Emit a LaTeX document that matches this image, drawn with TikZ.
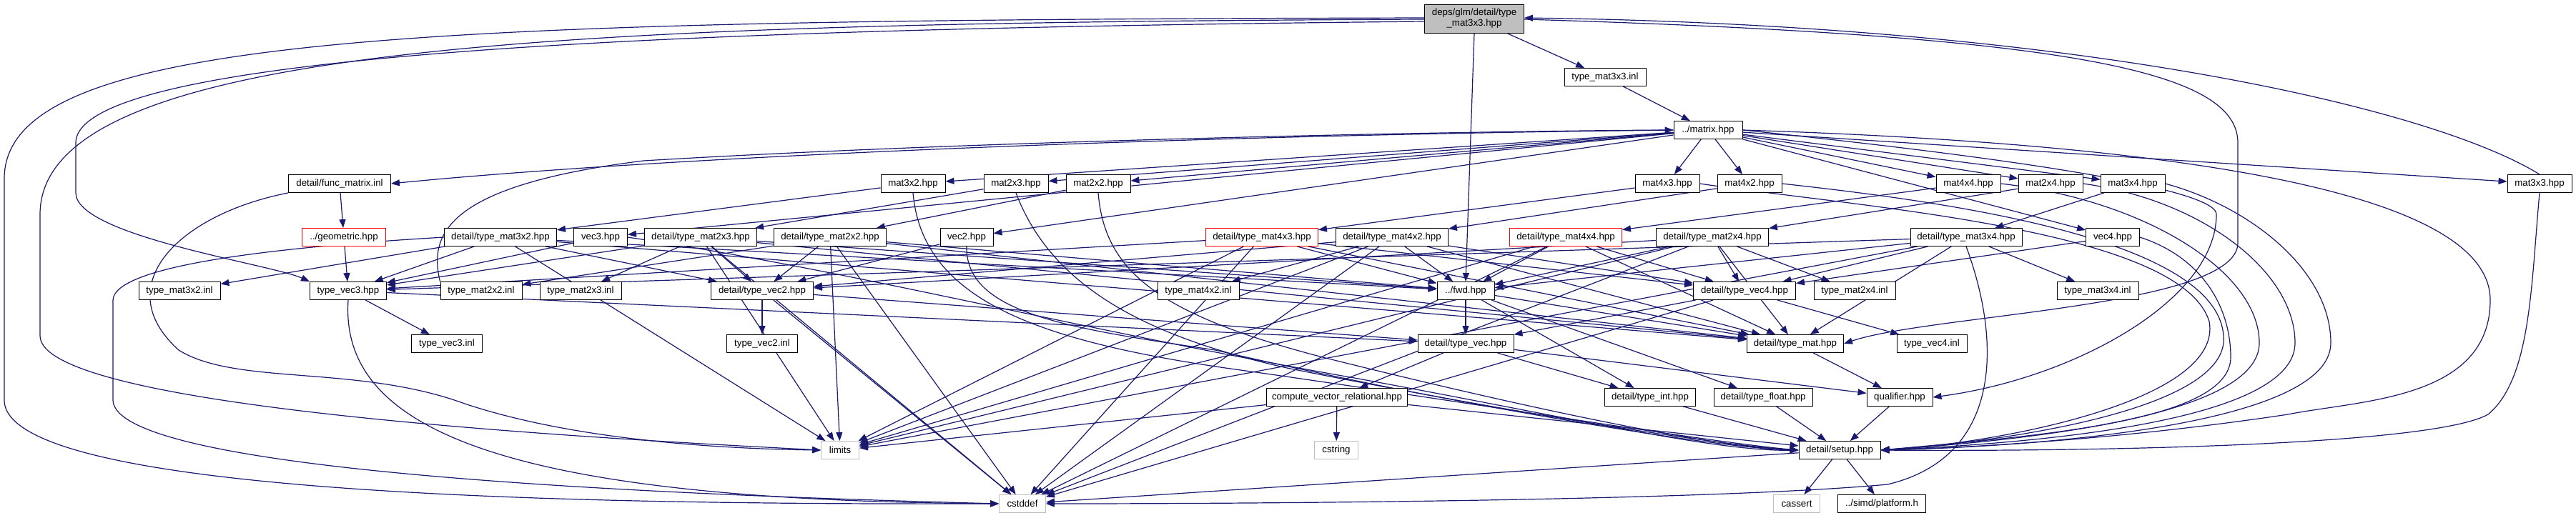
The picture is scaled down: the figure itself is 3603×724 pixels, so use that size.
\documentclass[tikz,border=0pt]{standalone}
\usepackage{fontspec}
\newfontfamily\nf{Liberation Sans}
\usetikzlibrary{arrows.meta,backgrounds}
\definecolor{edgec}{HTML}{191970}
\definecolor{gfill}{HTML}{BFBFBF}
\definecolor{gline}{HTML}{BFBFBF}
\newcommand\nodefont{\nf\fontsize{13.3pt}{15pt}\selectfont}
\begin{document}
\begin{tikzpicture}[x=1pt,y=1pt,
  nb/.style={draw=black, fill=white, line width=0.9pt, minimum height=25pt, inner xsep=2pt, inner ysep=0pt, font=\nodefont},
  gb/.style={nb, draw=gline},
  rb/.style={nb, draw=red},
  e/.style={draw=edgec, line width=1.2pt, -{Triangle[length=12pt,width=9pt]}}]
\useasboundingbox (0,0) rectangle (3603,-724);
% row 0-2
\node[nb, fill=gfill, minimum width=139pt, minimum height=40pt, align=center] (top) at (2062,-26) {deps/glm/detail/type\\\_mat3x3.hpp};
\node[nb, minimum width=114pt] (tm33inl) at (2245,-108) {type\_mat3x3.inl};
\node[nb, minimum width=96pt] (mat) at (2389,-182) {../matrix.hpp};
% row 3
\node[nb, minimum width=143pt] (fmatrix) at (475,-257) {detail/func\_matrix.inl};
\node[nb, minimum width=90pt] (m32) at (1277,-257) {mat3x2.hpp};
\node[nb, minimum width=90pt] (m23) at (1421,-257) {mat2x3.hpp};
\node[nb, minimum width=90pt] (m22) at (1536,-257) {mat2x2.hpp};
\node[nb, minimum width=90pt] (m43) at (2332,-257) {mat4x3.hpp};
\node[nb, minimum width=90pt] (m42) at (2447,-257) {mat4x2.hpp};
\node[nb, minimum width=90pt] (m44) at (2753,-257) {mat4x4.hpp};
\node[nb, minimum width=90pt] (m24) at (2868,-257) {mat2x4.hpp};
\node[nb, minimum width=90pt] (m34) at (2983,-257) {mat3x4.hpp};
\node[nb, minimum width=90pt] (m33) at (3552,-257) {mat3x3.hpp};
% row 4
\node[rb, minimum width=117pt] (geom) at (481,-332) {../geometric.hpp};
\node[nb, minimum width=157pt] (t32) at (700,-332) {detail/type\_mat3x2.hpp};
\node[nb, minimum width=75pt] (vec3) at (840,-332) {vec3.hpp};
\node[nb, minimum width=157pt] (t23) at (980,-332) {detail/type\_mat2x3.hpp};
\node[nb, minimum width=157pt] (t22) at (1161,-332) {detail/type\_mat2x2.hpp};
\node[nb, minimum width=74pt] (vec2) at (1352,-332) {vec2.hpp};
\node[rb, minimum width=157pt] (t43) at (1765,-332) {detail/type\_mat4x3.hpp};
\node[nb, minimum width=157pt] (t42) at (1947,-332) {detail/type\_mat4x2.hpp};
\node[rb, minimum width=157pt] (t44) at (2190,-332) {detail/type\_mat4x4.hpp};
\node[nb, minimum width=157pt] (t24) at (2395,-332) {detail/type\_mat2x4.hpp};
\node[nb, minimum width=156pt] (t34) at (2750,-332) {detail/type\_mat3x4.hpp};
\node[nb, minimum width=75pt] (vec4) at (2955,-332) {vec4.hpp};
% row 5
\node[nb, minimum width=114pt] (i32) at (251,-407) {type\_mat3x2.inl};
\node[nb, minimum width=107pt] (tv3) at (487,-407) {type\_vec3.hpp};
\node[nb, minimum width=114pt] (i22) at (673,-407) {type\_mat2x2.inl};
\node[nb, minimum width=114pt] (i23) at (812,-407) {type\_mat2x3.inl};
\node[nb, minimum width=143pt] (tv2) at (1066,-407) {detail/type\_vec2.hpp};
\node[nb, minimum width=114pt] (i42) at (1676,-407) {type\_mat4x2.inl};
\node[nb, minimum width=80pt] (fwd) at (2050,-407) {../fwd.hpp};
\node[nb, minimum width=143pt] (tv4) at (2440,-407) {detail/type\_vec4.hpp};
\node[nb, minimum width=114pt] (i24) at (2594,-407) {type\_mat2x4.inl};
\node[nb, minimum width=114pt] (i34) at (2934,-407) {type\_mat3x4.inl};
% row 6
\node[nb, minimum width=99pt] (tv3inl) at (625,-481) {type\_vec3.inl};
\node[nb, minimum width=99pt] (tv2inl) at (1066,-481) {type\_vec2.inl};
\node[nb, minimum width=134pt] (tvec) at (2050,-481) {detail/type\_vec.hpp};
\node[nb, minimum width=135pt] (tmat) at (2511,-481) {detail/type\_mat.hpp};
\node[nb, minimum width=98pt] (tv4inl) at (2702,-481) {type\_vec4.inl};
% row 7
\node[nb, minimum width=197pt] (cvr) at (1870,-556) {compute\_vector\_relational.hpp};
\node[nb, minimum width=127pt] (tint) at (2308,-556) {detail/type\_int.hpp};
\node[nb, minimum width=138pt] (tfloat) at (2466,-556) {detail/type\_float.hpp};
\node[nb, minimum width=92pt] (qual) at (2657,-556) {qualifier.hpp};
% row 8
\node[gb, minimum width=53pt] (limits) at (1175,-630) {limits};
\node[gb, minimum width=61pt] (cstring) at (1869,-630) {cstring};
\node[nb, minimum width=114pt] (setup) at (2573,-630) {detail/setup.hpp};
% row 9
\node[gb, minimum width=65pt] (cstddef) at (1430,-705) {cstddef};
\node[gb, minimum width=65pt] (cassert) at (2513,-705) {cassert};
\node[nb, minimum width=123pt] (platform) at (2632,-705) {../simd/platform.h};

\begin{pgfonlayer}{background}
\fill[white] (0,0) rectangle (3603,-724);
% top node
\draw[e] (top) -- (tm33inl);
\draw[e] (top.south) -- (fwd.north);
\draw[e] ([yshift=-4pt]top.west) .. controls (1000,-40) and (106,-70) .. (106,-200) -- (106,-270) .. controls (106,-330) and (380,-370) .. (tv3.north west);
\draw[e] ([yshift=-1pt]top.west) .. controls (800,-32) and (56,-60) .. (56,-300) -- (56,-470) .. controls (56,-570) and (800,-612) .. (limits.west);
\draw[e] ([yshift=1pt]top.west) .. controls (600,-28) and (6,-45) .. (6,-250) -- (6,-560) .. controls (6,-700) and (900,-706) .. (cstddef.west);
\draw[e] ([yshift=-1pt]top.east) .. controls (2900,-50) and (3130,-100) .. (3130,-200) -- (3130,-340) .. controls (3130,-430) and (2700,-440) .. (tmat.east);
\draw[e] (m33.north) .. controls (3400,-150) and (2900,-35) .. ([yshift=1pt]top.east);
\draw[e] (m33.south) .. controls (3540,-400) and (3540,-530) .. (3480,-580) .. controls (3400,-625) and (2900,-632) .. (setup.east);
\draw[e] (tm33inl) -- (mat);
% matrix.hpp
\draw[e] (mat.west) .. controls (1600,-190) and (900,-222) .. (fmatrix.east);
\foreach \t in {m32,m23,m22,vec3,vec2,m43,m42,m44,m24,m34,m33,vec4} \draw[e] (mat) -- (\t);
\draw[e] (mat.east) .. controls (3000,-200) and (3483,-260) .. (3483,-420) .. controls (3483,-560) and (3300,-560) .. (3200,-580) .. controls (3000,-610) and (2800,-625) .. (setup.east);
\draw[e] (mat.east) .. controls (2900,-230) and (3100,-270) .. (3100,-300) .. controls (3100,-420) and (2900,-530) .. (qual.east);
% func_matrix, geometric
\draw[e] (fmatrix) -- (geom);
\draw[e] (fmatrix.south west) .. controls (250,-300) and (150,-400) .. (250,-490) .. controls (330,-540) and (500,-510) .. (650,-565) .. controls (800,-615) and (1000,-628) .. (limits.west);
\draw[e] (geom) -- (tv3);
% mat*.hpp -> detail
\draw[e] (m32) -- (t32); \draw[e] (m23) -- (t23); \draw[e] (m22) -- (t22);
\draw[e] (m43) -- (t43); \draw[e] (m42) -- (t42); \draw[e] (m44) -- (t44);
\draw[e] (m24) -- (t24); \draw[e] (m34) -- (t34);
\draw[e] (vec2) -- (tv2); \draw[e] (vec3) -- (tv3); \draw[e] (vec4) -- (tv4);
% -> setup, left group
\draw[e] (m32.south) .. controls (1290,-420) and (1450,-480) .. (1750,-520) .. controls (2100,-570) and (2400,-620) .. (setup.west);
\draw[e] (m23.south) .. controls (1470,-400) and (1600,-470) .. (1800,-515) .. controls (2100,-575) and (2400,-623) .. (setup.west);
\draw[e] (m22.south) .. controls (1545,-380) and (1620,-440) .. (1850,-500) .. controls (2150,-575) and (2400,-626) .. (setup.west);
\draw[e] (vec2.south) .. controls (1350,-440) and (1500,-460) .. (1700,-490) .. controls (2000,-560) and (2400,-628) .. (setup.west);
\draw[e] (vec3.east) .. controls (1200,-380) and (1500,-460) .. (1900,-530) .. controls (2200,-585) and (2400,-632) .. (setup.west);
% -> setup, right group
\draw[e] (m43.east) .. controls (2600,-290) and (3050,-320) .. (3090,-450) .. controls (3110,-560) and (2800,-620) .. (setup.east);
\draw[e] (m42.east) .. controls (2700,-280) and (3100,-330) .. (3110,-470) .. controls (3120,-570) and (2820,-617) .. (setup.east);
\draw[e] (m44.east) .. controls (3000,-280) and (3160,-380) .. (3160,-480) .. controls (3160,-580) and (2850,-615) .. (setup.east);
\draw[e] (m24.east) .. controls (3080,-280) and (3210,-380) .. (3210,-480) .. controls (3210,-590) and (2850,-620) .. (setup.east);
\draw[e] (m34.east) .. controls (3150,-290) and (3260,-380) .. (3260,-480) .. controls (3260,-595) and (2850,-625) .. (setup.east);
\draw[e] (vec4.east) .. controls (3080,-360) and (3120,-430) .. (3120,-500) .. controls (3120,-590) and (2850,-610) .. (setup.east);
% detail/type_mat*.hpp
\draw[e] (t32) -- (i32); \draw[e] (t23) -- (i23); \draw[e] (t22) -- (i22);
\draw[e] (t42) -- (i42); \draw[e] (t24) -- (i24); \draw[e] (t34) -- (i34);
\draw[e] (i22.north west) .. controls (600,-330) and (620,-260) .. (900,-225) .. controls (1400,-195) and (2100,-183) .. (mat.west);
\foreach \s in {t32,t23,t22,t43,t42,t44,t24,t34} {\draw[e] (\s) -- (fwd); \draw[e] (\s) -- (tmat);}
\foreach \s in {t32,t23,t22,t42,t24} \draw[e] (\s) -- (tv2);
\foreach \s in {t32,t23,t43,t34} \draw[e] (\s) -- (tv3);
\foreach \s in {t43,t42,t44,t24,t34} \draw[e] (\s) -- (tv4);
\foreach \s in {t32,t23,t22,t43,t42,t44,t24,t34,cvr} \draw[e] (\s) -- (limits);
\foreach \s in {t23,t22,t43,t42,t44,t24,tv2,tv4,setup} \draw[e] (\s) -- (cstddef);
\draw[e] (t32.west) .. controls (400,-345) and (160,-370) .. (158,-420) -- (158,-560) .. controls (160,-660) and (900,-692) .. (cstddef.west);
\draw[e] (t34.south) .. controls (2800,-480) and (2800,-640) .. (2640,-678) .. controls (2400,-700) and (1800,-705) .. (cstddef.east);
\draw[e] (tv3.south) .. controls (475,-600) and (700,-700) .. (cstddef.west);
% vectors
\draw[e] (tv3) -- (tv3inl); \draw[e] (tv2) -- (tv2inl); \draw[e] (tv4) -- (tv4inl);
\draw[e] (tv3) -- (tvec); \draw[e] (tv2) -- (tvec); \draw[e] (tv4) -- (tvec);
% fwd, type_vec, type_mat
\draw[e] (fwd) -- (tvec); \draw[e] (fwd) -- (tint); \draw[e] (fwd) -- (tfloat); \draw[e] (fwd) -- (tmat);
\draw[e] (tvec) -- (cvr); \draw[e] (tvec) -- (tint); \draw[e] (tvec) -- (qual);
\draw[e] (tmat) -- (qual);
\draw[e] (cvr) -- (cstring); \draw[e] (cvr) -- (setup);
\draw[e] (tint) -- (setup); \draw[e] (tfloat) -- (setup); \draw[e] (qual) -- (setup);
\draw[e] (setup) -- (cassert); \draw[e] (setup) -- (platform);
\end{pgfonlayer}
\end{tikzpicture}
\end{document}
